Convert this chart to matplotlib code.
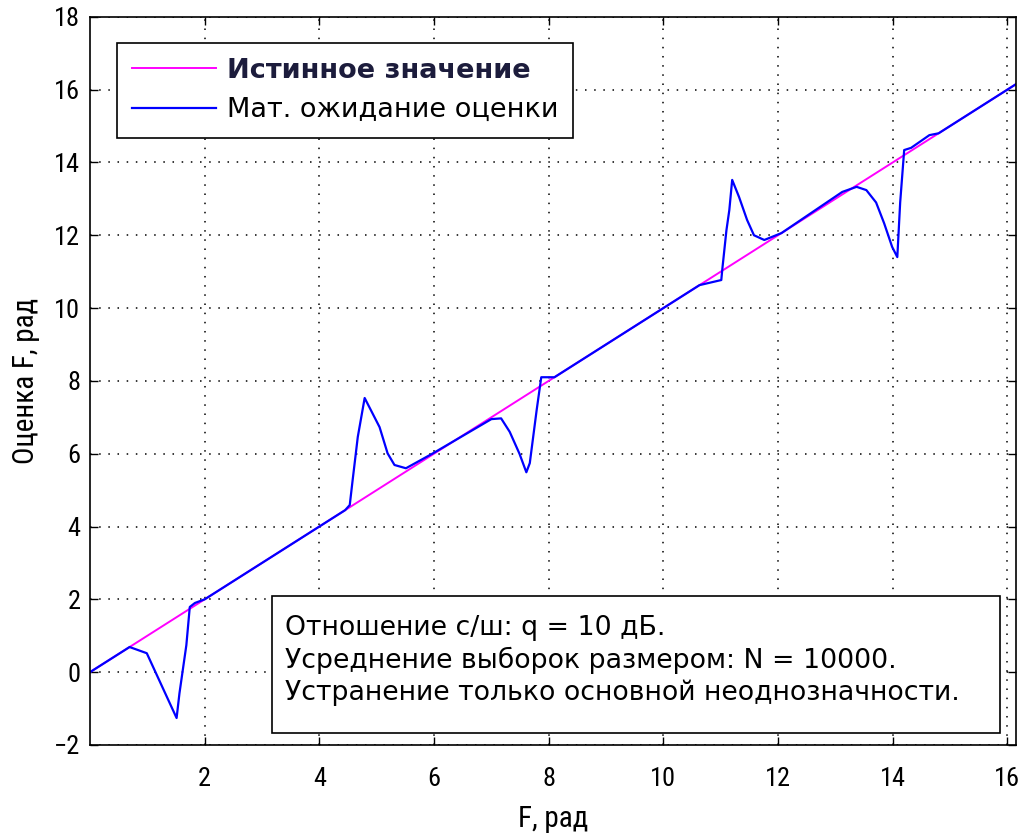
import matplotlib
matplotlib.use('Agg')
import matplotlib.pyplot as plt
import matplotlib.patches as mpatches
from matplotlib import font_manager

# true phase and mean of the estimate (rad)
true_f = [0.0, 16.15]
est_f = [0.0, 0.69, 0.99, 1.51, 1.56, 1.68, 1.74, 1.83, 2.0, 4.45, 4.53, 4.58,
         4.67, 4.79, 5.05, 5.19, 5.31, 5.51, 5.97, 7.0, 7.17, 7.32, 7.49, 7.61,
         7.67, 7.79, 7.87, 8.0, 8.1, 10.63, 11.01, 11.03, 11.1, 11.15, 11.2,
         11.32, 11.46, 11.58, 11.76, 12.06, 13.12, 13.37, 13.54, 13.71, 13.85,
         13.99, 14.08, 14.13, 14.2, 14.32, 14.64, 14.8, 16.15]
est_mean = [0.0, 0.69, 0.52, -1.26, -0.58, 0.74, 1.79, 1.9, 2.0, 4.45, 4.59, 5.27,
            6.46, 7.53, 6.73, 6.01, 5.69, 5.6, 6.0, 6.95, 6.97, 6.6, 6.0, 5.49,
            5.74, 7.2, 8.1, 8.1, 8.1, 10.63, 10.77, 11.1, 12.14, 12.69, 13.52,
            13.05, 12.42, 12.0, 11.87, 12.06, 13.19, 13.33, 13.24, 12.9, 12.33,
            11.68, 11.4, 12.9, 14.34, 14.4, 14.75, 14.8, 16.15]

x_ticks = [2, 4, 6, 8, 10, 12, 14, 16]
y_ticks = [-2, 0, 2, 4, 6, 8, 10, 12, 14, 16, 18]

legend_labels = ['Истинное значение', 'Мат. ожидание оценки']
info_lines = ['Отношение с/ш: q = 10 дБ.',
              'Усреднение выборок размером: N = 10000.',
              'Устранение только основной неоднозначности.']

available = {f.name for f in font_manager.fontManager.ttflist}
narrow = next((f for f in ['Roboto Condensed', 'DejaVu Sans Condensed', 'Liberation Sans Narrow']
               if f in available), 'DejaVu Sans')
plt.rcParams['font.family'] = [narrow, 'DejaVu Sans']

fig = plt.figure(figsize=(10.3, 8.36), dpi=100)
ax = fig.add_axes([0.0874, 0.1089, 0.899, 0.871])

ax.plot(true_f, true_f, color=(1, 0, 1), lw=1.4, label=legend_labels[0])
ax.plot(est_f, est_mean, color=(0, 0, 1), lw=1.6, label=legend_labels[1])

ax.set_xlim(0, 16.15)
ax.set_ylim(-2, 18)
ax.set_xticks(x_ticks)
ax.set_yticks(y_ticks)
ax.tick_params(direction='in', length=6, width=1, top=True, right=True, labelsize=19)
ax.tick_params(axis='x', pad=16)
ax.tick_params(axis='y', pad=7)
ax.grid(True, color='black', linestyle=(0, (1, 5)), linewidth=1.1)
for sp in ax.spines.values():
    sp.set_linewidth(1.2)

ax.set_xlabel('F, рад', fontsize=21, labelpad=10)
ax.set_ylabel('Оценка F, рад', fontsize=21, labelpad=10)

leg = ax.legend(loc='upper left', bbox_to_anchor=(0.1136, 0.9486),
                bbox_transform=fig.transFigure, borderaxespad=0, fancybox=False,
                edgecolor='black', framealpha=1, handlelength=3.1, handletextpad=0.4,
                borderpad=0.55, labelspacing=0.5,
                prop={'family': 'DejaVu Sans', 'size': 19.5})
leg.get_frame().set_linewidth(1.2)
txts = leg.get_texts()
txts[0].set_fontweight('bold')
txts[0].set_color('#1c1c3c')

# info box in the lower right
ax.add_patch(mpatches.Rectangle((0.1965, 0.0165), 0.7865, 0.1882, transform=ax.transAxes,
                                facecolor='white', edgecolor='black', lw=1.2, zorder=4))
for i, line in enumerate(info_lines):
    ax.text(0.2106, 0.1607 - i * 0.0447, line, transform=ax.transAxes, fontsize=19.3,
            family='DejaVu Sans', va='center', ha='left', zorder=5)

fig.savefig('out.png', dpi=100)
